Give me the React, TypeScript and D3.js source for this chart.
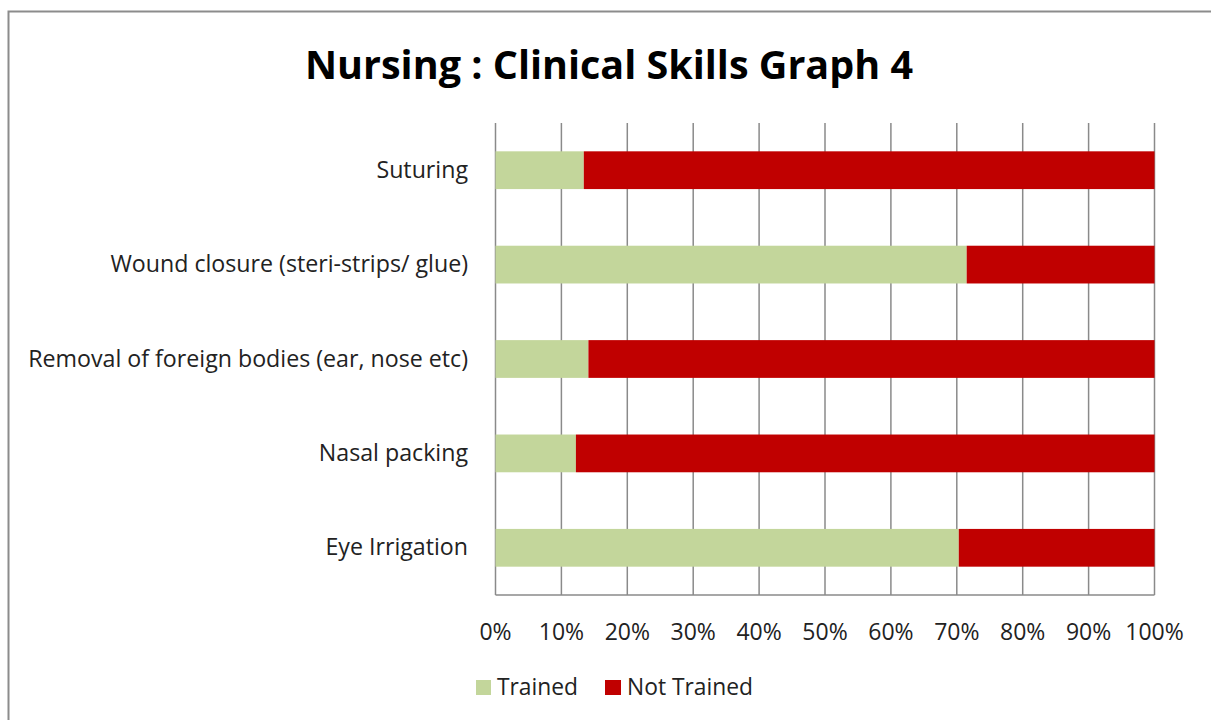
import React from "react";
import * as d3 from "d3";

const categories = [
  "Suturing",
  "Wound closure (steri-strips/ glue)",
  "Removal of foreign bodies (ear, nose etc)",
  "Nasal packing",
  "Eye Irrigation",
];
const trained = [13.4, 71.5, 14.1, 12.2, 70.3];
const notTrained = trained.map((v) => 100 - v);
const seriesNames = ["Trained", "Not Trained"];
const seriesColors = ["#C3D69B", "#C00000"];
const ticks = [0, 10, 20, 30, 40, 50, 60, 70, 80, 90, 100];

const W = 1211;
const H = 720;
const plot = { left: 495.5, right: 1154.5, top: 123, bottom: 595 };
const FONT = "'Open Sans', sans-serif";

export default function App() {
  const x = d3.scaleLinear().domain([0, 100]).range([plot.left, plot.right]);
  const y = d3
    .scaleBand<string>()
    .domain(categories)
    .range([plot.top, plot.bottom])
    .paddingInner(0.6)
    .paddingOuter(0.3);

  const stackData = categories.map((c, i) => ({ cat: c, Trained: trained[i], "Not Trained": notTrained[i] }));
  const stacked = d3.stack<any>().keys(seriesNames)(stackData);

  return (
    <svg width={W} height={H} style={{ position: "absolute", left: 0, top: 0 }}>
      <rect x={0} y={0} width={W} height={H} fill="#fff" />
      <rect x={8.5} y={11.5} width={W + 20} height={H + 20} fill="#fff" stroke="#8c8c8c" strokeWidth={2} />
      <text x={609} y={79} textAnchor="middle" fontFamily={FONT} fontWeight="bold" fontSize={39.5} fill="#000">
        Nursing : Clinical Skills Graph 4
      </text>
      {ticks.map((t) => (
        <line key={"g" + t} x1={x(t)} x2={x(t)} y1={plot.top} y2={plot.bottom} stroke="#8a8a8a" strokeWidth={1.5} />
      ))}
      <line x1={plot.left} x2={plot.right} y1={plot.bottom} y2={plot.bottom} stroke="#8a8a8a" strokeWidth={1.5} />
      {stacked.map((s, si) =>
        s.map((d, i) => (
          <rect
            key={si + "-" + i}
            x={x(d[0])}
            width={x(d[1]) - x(d[0])}
            y={y(categories[i])}
            height={y.bandwidth()}
            fill={seriesColors[si]}
          />
        ))
      )}
      {categories.map((c) => (
        <text
          key={c}
          x={468}
          y={(y(c) as number) + y.bandwidth() / 2}
          dy="0.33em"
          textAnchor="end"
          fontFamily={FONT}
          fontSize={23.2}
          fill="#222"
        >
          {c}
        </text>
      ))}
      {ticks.map((t) => (
        <text key={"t" + t} x={x(t)} y={640} textAnchor="middle" fontFamily={FONT} fontSize={23} fill="#222">
          {t + "%"}
        </text>
      ))}
      <rect x={476} y={680} width={15} height={15} fill={seriesColors[0]} />
      <text x={497} y={695} fontFamily={FONT} fontSize={22.8} fill="#222">
        {seriesNames[0]}
      </text>
      <rect x={605} y={680} width={16} height={15} fill={seriesColors[1]} />
      <text x={627} y={695} fontFamily={FONT} fontSize={22.8} fill="#222">
        {seriesNames[1]}
      </text>
    </svg>
  );
}
